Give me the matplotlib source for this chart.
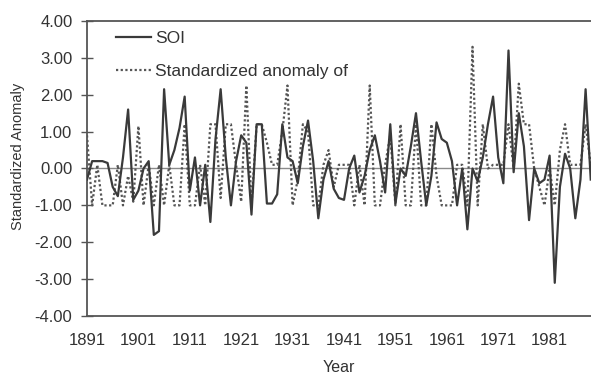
import numpy as np
import matplotlib
matplotlib.use("Agg")
import matplotlib.pyplot as plt
from matplotlib.ticker import FormatStrFormatter

# years 1891-1989, one value per year
years = np.arange(1891, 1990)

soi = [
    -0.3, 0.2, 0.2, 0.2, 0.15, -0.5, -0.75, 0.3, 1.6, -0.85,      # 1891-1900
    -0.6, 0.0, 0.2, -1.8, -1.7, 2.15, 0.1, 0.5, 1.1, 1.95,        # 1901-1910
    -0.6, 0.3, -1.0, 0.1, -1.45, 0.8, 2.15, 0.3, -1.0, 0.2,       # 1911-1920
    0.9, 0.7, -1.25, 1.2, 1.2, -0.95, -0.95, -0.7, 1.2, 0.3,      # 1921-1930
    0.2, -0.4, 0.6, 1.3, 0.2, -1.35, -0.3, 0.2, -0.55, -0.8,      # 1931-1940
    -0.85, 0.0, 0.35, -0.65, -0.2, 0.5, 0.9, 0.2, -0.65, 1.2,     # 1941-1950
    -0.95, 0.0, -0.2, 0.6, 1.5, 0.2, -1.0, -0.2, 1.25, 0.8,       # 1951-1960
    0.7, 0.2, -1.0, 0.0, -1.65, 0.0, -0.35, 0.3, 1.2, 1.95,       # 1961-1970
    0.3, -0.4, 3.2, -0.1, 1.5, 0.6, -1.4, 0.0, -0.4, -0.3,        # 1971-1980
    0.35, -3.1, -0.5, 0.4, 0.0, -1.35, -0.3, 2.15, -0.3,          # 1981-1989
]

rain_anom = [
    0.9, -1.0, 0.1, -1.0, -1.0, -1.0, 0.1, -1.0, -0.2, -0.9,      # 1891-1900
    1.15, -1.0, 0.1, -1.0, 0.1, -1.0, 0.1, -1.0, -1.0, 1.2,       # 1901-1910
    -1.0, -1.0, 0.1, -1.0, 1.2, 1.2, -0.8, 1.2, 1.2, 0.1,         # 1911-1920
    -0.9, 2.25, -1.0, 1.2, 1.2, 0.7, 0.1, 0.1, 1.0, 2.25,         # 1921-1930
    -1.0, -0.3, 1.2, 1.0, -1.0, -1.0, 0.1, 0.5, -0.5, 0.1,        # 1931-1940
    0.1, 0.1, -1.0, 0.1, -1.0, 2.25, -1.0, -1.0, 0.1, 0.9,        # 1941-1950
    -1.0, 1.2, -1.0, -1.0, 1.2, -1.0, -1.0, 1.2, -0.2, -1.0,      # 1951-1960
    -1.0, -1.0, 0.1, 0.1, -1.0, 3.3, -1.0, 1.2, 0.0, 0.1,         # 1961-1970
    0.1, 0.1, 1.2, 0.0, 2.3, 1.2, 1.2, 0.0, -0.5, -1.0,           # 1971-1980
    0.0, -1.0, 0.5, 1.2, 0.1, 0.1, 0.1, 1.2, 0.1,                 # 1981-1989
]

y_ticks = [-4, -3, -2, -1, 0, 1, 2, 3, 4]
x_ticks = [1891, 1901, 1911, 1921, 1931, 1941, 1951, 1961, 1971, 1981]

plt.rcParams['font.family'] = ['Liberation Sans', 'DejaVu Sans']

fig = plt.figure(figsize=(5.91, 3.78), dpi=100)
ax = fig.add_axes([87 / 591, 1 - 316 / 378, 1 - 87 / 591, (316 - 21) / 378])

ax.axhline(0, color='#8a8a8a', lw=1.0, zorder=1)
ax.plot(years, soi, color='#3a3a3a', lw=1.6, label='SOI', zorder=3)
ax.plot(years, rain_anom, color='#555555', lw=1.6, ls=(0, (1, 1.1)),
        label='Standardized anomaly of', zorder=2)

ax.set_xlim(1891, 1989.05)
ax.set_ylim(-4, 4)
ax.set_yticks(y_ticks)
ax.set_xticks(x_ticks)
ax.yaxis.set_major_formatter(FormatStrFormatter('%.2f'))

for side in ['left', 'top', 'bottom']:
    ax.spines[side].set_color('#555555')
    ax.spines[side].set_linewidth(1.3)
ax.spines['right'].set_visible(False)

ax.tick_params(axis='y', direction='inout', length=9, width=1.0, color='#555555',
               labelsize=12, labelcolor='#333333', pad=6)
ax.tick_params(axis='x', length=0, labelsize=12, labelcolor='#333333', pad=12)

ax.set_xlabel('Year', fontsize=11.5, color='#333333', labelpad=9)
ax.set_ylabel('Standardized Anomaly', fontsize=10.5, color='#333333')
ax.yaxis.set_label_coords(-0.123, 0.54)

ax.legend(loc='upper left', bbox_to_anchor=(0.058, 0.968), frameon=False,
          fontsize=12.5, handlelength=2.0, handletextpad=0.25,
          labelspacing=1.05, borderaxespad=0, borderpad=0, labelcolor='#333333')

fig.savefig('out.png', dpi=100)
